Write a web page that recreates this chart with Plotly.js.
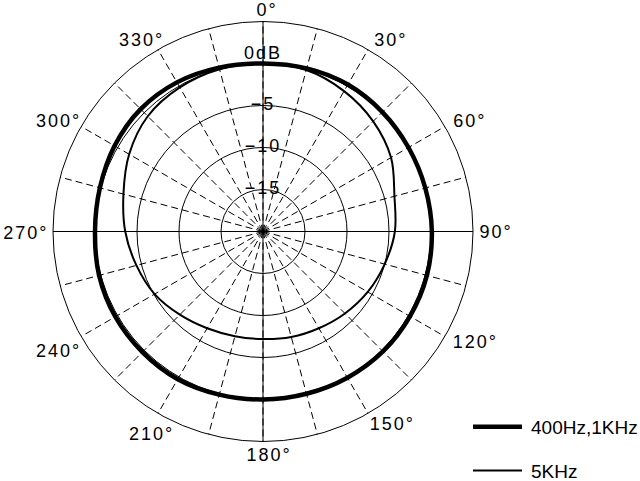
<!DOCTYPE html>
<html><head><meta charset="utf-8">
<script src="https://cdn.plot.ly/plotly-3.0.1.min.js"></script>
<style>
html,body{margin:0;padding:0;background:#fff;}
#chart{width:640px;height:481px;position:relative;}
.angularaxistick text{letter-spacing:2px;}
.textpoint text{letter-spacing:2px;}
</style></head><body><div id="chart"></div>
<script>
// angles in degrees (clockwise from top)
const angles = [0,15,30,45,60,75,90,105,120,135,150,165,180,195,210,225,240,255,270,285,300,315,330,345];
// response in dB
const lowFreq  = [0.0,0.1,0.2,0.1,0.0,0.0,0.1,0.2,0.2,0.2,0.1,0.0,0.0,0.1,0.3,0.3,0.3,0.2,0.0,0.1,0.4,0.6,0.5,0.2];
const highFreq = [0.0,-0.1,-0.7,-1.45,-2.4,-3.8,-4.3,-5.0,-5.6,-6.2,-6.7,-7.0,-7.2,-7.1,-6.7,-6.0,-5.1,-4.4,-3.6,-2.8,-1.6,-0.6,-0.2,0.0];
const seriesNames = ['400Hz,1KHz','5KHz'];
const angleTicks = [0,15,30,45,60,75,90,105,120,135,150,165,180,195,210,225,240,255,270,285,300,315,330,345];
const angleTickText = ['0°','','30°','','60°','','90°','','120°','','150°','','180°','','210°','','240°','','270°','','300°','','330°',''];
const levelTicks = [-15,-10,-5,0];
const levelLabels = ['−15','−10','−5','0dB'];
const levelLabelPos = ['middle center','middle center','middle center','top center'];
const rRange = [-20,5];
const axisAngles = [0,90];

const W = 640, H = 481;
const FONT = 'Liberation Sans, Arial, Helvetica, sans-serif';
const ITEMW = 53;
// small hand placement nudges of the angle labels (px), as in the original drawing
const LABEL_NUDGE = {0:[3,1],30:[12,7],60:[4,6],90:[0,0],120:[5,-9],150:[12,-9],180:[5,1],210:[4,1],240:[1,0],270:[0,1],300:[1,9],330:[-6,10]};

function closeLoop(arr, first){ return arr.concat([first]); }

const traces = [];
axisAngles.forEach(a => {
  traces.push({
    type:'scatterpolar', mode:'lines',
    r:[rRange[1], rRange[0], rRange[1]],
    theta:[a, a, a+180],
    line:{color:'#000', width:1},
    showlegend:false, hoverinfo:'skip'
  });
});
traces.push({
  type:'scatterpolar', mode:'lines', name:seriesNames[0], legendgroup:'a',
  r:closeLoop(lowFreq, lowFreq[0]), theta:closeLoop(angles, 360),
  line:{color:'#000', width:4.5, shape:'spline', smoothing:1}
});
traces.push({
  type:'scatterpolar', mode:'lines', name:seriesNames[1], legendgroup:'b',
  r:closeLoop(highFreq, highFreq[0]), theta:closeLoop(angles, 360),
  line:{color:'#000', width:2, shape:'spline', smoothing:1}
});
traces.push({
  type:'scatterpolar', mode:'text',
  r:levelTicks, theta:levelTicks.map(()=>0),
  text:levelLabels, textposition:levelLabelPos,
  textfont:{family:FONT, size:18, color:'#000'},
  showlegend:false, hoverinfo:'skip'
});

const cx0 = 53, cx1 = 473, cy0 = 21.5, cy1 = 441.5;
const layout = {
  width:W, height:H,
  margin:{l:0,r:0,t:0,b:0, autoexpand:false},
  paper_bgcolor:'#fff', plot_bgcolor:'#fff',
  font:{family:FONT, size:18, color:'#000'},
  hovermode:false,
  polar:{
    domain:{x:[cx0/W, cx1/W], y:[1-cy1/H, 1-cy0/H]},
    bgcolor:'#fff',
    angularaxis:{
      rotation:90, direction:'clockwise',
      tickmode:'array', tickvals:angleTicks, ticktext:angleTickText,
      ticks:'', showline:true, linecolor:'#000', linewidth:1,
      showgrid:true, gridcolor:'#000', gridwidth:1, griddash:'7px,4px',
      tickfont:{family:FONT, size:18, color:'#000'}
    },
    radialaxis:{
      range:rRange, tickmode:'array', tickvals:levelTicks,
      showticklabels:false, ticks:'', showline:false,
      showgrid:true, gridcolor:'#000', gridwidth:1
    }
  },
  showlegend:true,
  legend:{
    x:(491 - (ITEMW - 30))/W, xanchor:'left', y:1-408/H, yanchor:'top',
    itemwidth:ITEMW,
    font:{family:FONT, size:19, color:'#000'},
    tracegroupgap:16, bgcolor:'rgba(0,0,0,0)', borderwidth:0
  }
};

function finish(gd){
  const base = gd.getBoundingClientRect();
  // legend line samples: longer, ending just before the text
  gd.querySelectorAll('g.traces').forEach(t => {
    const txt = t.querySelector('text.legendtext');
    let tx = txt ? parseFloat(txt.getAttribute('x')) : NaN;
    if (isNaN(tx)) tx = ITEMW + 10;
    t.querySelectorAll('g.legendlines path').forEach(p => {
      p.setAttribute('d', 'M' + (tx - 9 - 49) + ',0h49');
    });
  });
  // angular labels: place just outside the outer circle
  const cx = (cx0 + cx1) / 2, cy = (cy0 + cy1) / 2, R = (cx1 - cx0) / 2, gap = 6.5;
  gd.querySelectorAll('.angularaxistick text').forEach(t => {
    if (t.dataset.moved) return;
    const ang = parseFloat(t.textContent);
    if (isNaN(ang)) return;
    const b = t.getBoundingClientRect();
    if (!b.width) return;
    const w = b.width - 2, h = b.height * 0.62;
    const a = ang * Math.PI / 180, s = Math.sin(a), c = -Math.cos(a);
    const d = R + gap + Math.abs(s) * w / 2 + Math.abs(c) * h / 2;
    const nudge = LABEL_NUDGE[ang] || [0,0];
    const tx = cx + s * d + nudge[0], ty = cy + c * d + nudge[1];
    const curx = b.left - base.left + (b.width - 2) / 2, cury = b.top - base.top + b.height / 2;
    const prev = t.getAttribute('transform') || '';
    t.setAttribute('transform', prev + ' translate(' + (tx - curx).toFixed(2) + ',' + (ty - cury).toFixed(2) + ')');
    t.dataset.moved = '1';
  });
}

Plotly.newPlot('chart', traces, layout, {staticPlot:true, displayModeBar:false}).then(gd => {
  finish(gd);
  gd.on('plotly_afterplot', () => finish(gd));
  setTimeout(() => finish(gd), 100);
  setTimeout(() => finish(gd), 400);
});
</script></body></html>
